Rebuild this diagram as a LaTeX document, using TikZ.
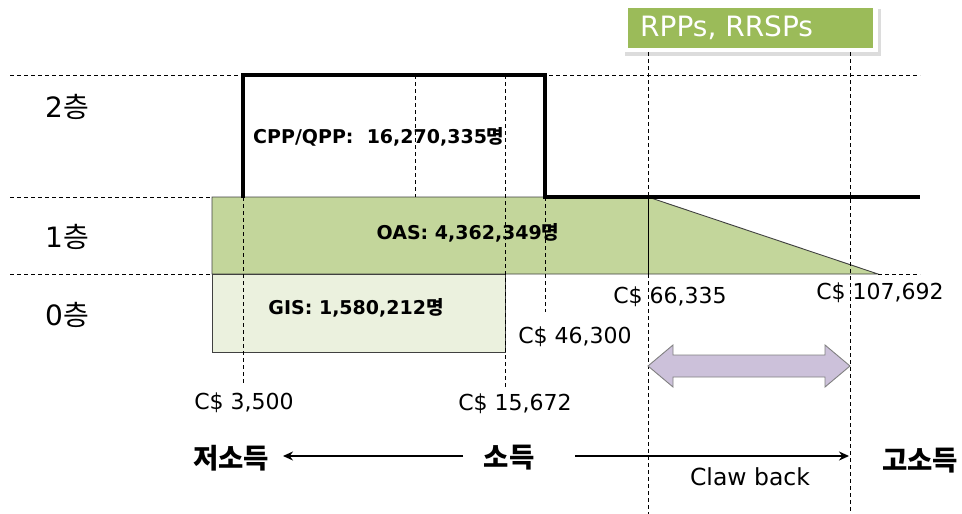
\documentclass[tikz,border=0pt]{standalone}
\usepackage{fontspec}
\setmainfont{DejaVu Sans}
\newfontfamily\cjk{Noto Sans CJK KR}
\usetikzlibrary{arrows.meta}
\definecolor{oasgreen}{HTML}{C3D69B}
\definecolor{gisgreen}{HTML}{EBF1DE}
\definecolor{rppgreen}{HTML}{9BBB59}
\definecolor{clawpurple}{HTML}{CCC1DA}
\definecolor{edgegray}{HTML}{404040}
\begin{document}
\begin{tikzpicture}[x=1pt,y=-1pt,
  guide/.style={draw=black,line width=0.9pt,dash pattern=on 4pt off 3pt},
  stepline/.style={draw=black,line width=3.5pt,line join=miter},
  tier/.style={font=\fontsize{28pt}{32pt}\selectfont,inner sep=0pt},
  money/.style={font=\fontsize{22pt}{25pt}\selectfont,inner sep=0pt},
  plan/.style={font=\fontsize{19pt}{22pt}\selectfont\bfseries,inner sep=0pt},
  axislabel/.style={font=\fontsize{27.5pt}{30pt}\selectfont\bfseries\cjk,inner sep=0pt},
  axisarrow/.style={draw=black,line width=1.6pt,-{Stealth[length=10pt,width=9pt]}},
  thinedge/.style={draw=edgegray,line width=0.9pt}]
\useasboundingbox (0,0) rectangle (962,514);

% RPPs box with shadow
\fill[black!30,opacity=0.45] (625,9) rectangle (881,56);
\fill[white] (622,5) rectangle (878,52);
\fill[rppgreen] (628,8) rectangle (873,48);
\node[anchor=west,inner sep=0pt,text=white,font=\fontsize{28pt}{32pt}\selectfont]
  (rpp) at (640,28) {RPPs, RRSPs};

% OAS tier (rectangle + claw back triangle)
\filldraw[fill=oasgreen,thinedge] (212,197) -- (648,197) -- (878,274) -- (212,274) -- cycle;
\draw[black,line width=1pt] (648,197) -- (648,274);
% GIS tier
\filldraw[fill=gisgreen,thinedge] (212,274) rectangle (505,352);

% horizontal guides
\draw[guide] (10,75) -- (920,75);
\draw[guide] (10,197) -- (212,197);
\draw[guide] (10,274) -- (212,274);
\draw[guide] (878,274) -- (920,274);

% vertical guides
\draw[guide] (243,197) -- (243,385);
\draw[guide] (415,75) -- (415,197);
\draw[guide] (505,75) -- (505,388);
\draw[guide] (545,197) -- (545,312);
\draw[guide] (648,52) -- (648,197);
\draw[guide] (648,274) -- (648,514);
\draw[guide] (850,52) -- (850,514);

% CPP/QPP step line
\draw[stepline] (243,198) -- (243,75) -- (545,75) -- (545,197) -- (920,197);

% claw back double arrow
\filldraw[fill=clawpurple,draw=black!50,line width=0.9pt]
  (648,366) -- (673,345) -- (673,355) -- (825,355) -- (825,345) -- (850,366)
  -- (825,387) -- (825,377) -- (673,377) -- (673,387) -- cycle;

% tier labels
\node[tier] (t2) at (67,107) {2{\cjk 층}};
\node[tier] (t1) at (67,237) {1{\cjk 층}};
\node[tier] (t0) at (67,315) {0{\cjk 층}};

% plan labels
\node[plan,anchor=west] (cpp) at (253,137) {CPP/QPP:\ \ 16,270,335{\cjk\bfseries 명}};
\node[plan] (oas) at (468,233) {OAS: 4,362,349{\cjk\bfseries 명}};
\node[plan] (gis) at (356,308) {GIS: 1,580,212{\cjk\bfseries 명}};

% money thresholds
\node[money] (m46300) at (575,337) {C\$ 46,300};
\node[money] (m66335) at (670,297) {C\$ 66,335};
\node[money] (m107692) at (880,293) {C\$ 107,692};
\node[money] (m3500) at (244,403) {C\$ 3,500};
\node[money] (m15672) at (515,404) {C\$ 15,672};

% income axis
\node[axislabel] (low) at (231,458) {저소득};
\node[axislabel] (inc) at (509,458) {소득};
\node[axislabel] (high) at (920,461) {고소득};
\coordinate (lstart) at (463,456);
\coordinate (lend) at (283,456);
\coordinate (rstart) at (575,456);
\coordinate (rend) at (849,456);
\draw[axisarrow] (lstart) -- (lend);
\draw[axisarrow] (rstart) -- (rend);

\node[money,font=\fontsize{23.5pt}{26pt}\selectfont] (claw) at (750,477) {Claw back};
\end{tikzpicture}
\end{document}
